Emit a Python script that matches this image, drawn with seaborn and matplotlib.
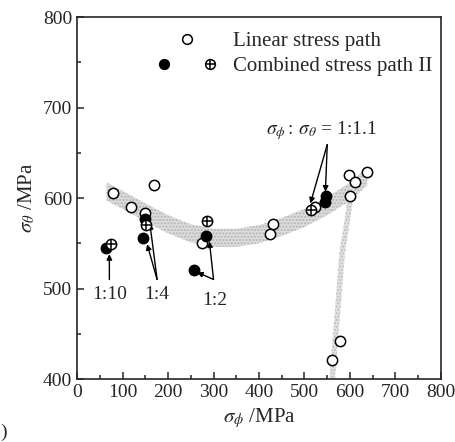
import matplotlib
matplotlib.use('Agg')
import matplotlib.pyplot as plt
import seaborn as sns
import numpy as np
import pandas as pd
from matplotlib.lines import Line2D
from matplotlib.legend_handler import HandlerTuple
from matplotlib.ticker import MultipleLocator

# ---- data ----
linear_x = [78, 118, 170, 149, 275, 430, 424, 524, 598, 612, 638, 600, 577, 560]
linear_y = [606, 590, 614, 583, 550, 571, 560, 590, 625, 618, 629, 602, 442, 421]
solid_x = [63, 145, 150, 258, 283, 545, 547]
solid_y = [545, 556, 577, 520, 558, 596, 602]
oplus_x = [75, 152, 285, 515]
oplus_y = [549, 570, 575, 587]

band_x = [65, 100, 150, 200, 250, 300, 350, 400, 450, 500, 550, 600, 638]
band_y = [607, 598, 584, 571, 561, 556, 556, 560, 568, 578, 591, 607, 624]
branch_y = [612, 575, 540, 470, 400]
branch_x = [604, 594, 583, 572, 561]

x_ticks = [0, 100, 200, 300, 400, 500, 600, 700, 800]
y_ticks = [400, 500, 600, 700, 800]

sns.set_style('ticks')
plt.rcParams['font.family'] = ['Liberation Serif', 'DejaVu Serif']
plt.rcParams['mathtext.fontset'] = 'stix'
plt.rcParams['axes.linewidth'] = 1.2

fig = plt.figure(figsize=(4.56, 4.42), dpi=100)
ax = fig.add_axes([0.169, 0.1425, 0.798, 0.819])

# shaded guide band
bx = np.array(band_x, dtype=float)
by = np.array(band_y, dtype=float)
ax.fill_between(bx, by - 10, by + 10, facecolor='#dcdcdc', edgecolor='#b4b4b4',
                hatch='.....', linewidth=0, zorder=1)
brx = np.array(branch_x, dtype=float)
bry = np.array(branch_y, dtype=float)
ax.fill_betweenx(bry, brx - 6, brx + 6, facecolor='#e2e2e2', edgecolor='#bcbcbc',
                 hatch='.....', linewidth=0, zorder=1)

ms = 55
lin = pd.DataFrame({'x': linear_x, 'y': linear_y})
sol = pd.DataFrame({'x': solid_x, 'y': solid_y})
opl = pd.DataFrame({'x': oplus_x, 'y': oplus_y})
sns.scatterplot(data=lin, x='x', y='y', ax=ax, marker='o', s=ms, facecolor='white',
                edgecolor='black', linewidth=1.1, zorder=3, legend=False)
sns.scatterplot(data=sol, x='x', y='y', ax=ax, marker='o', s=ms, color='black',
                edgecolor='black', linewidth=1.1, zorder=4, legend=False)
sns.scatterplot(data=opl, x='x', y='y', ax=ax, marker='o', s=ms, facecolor='white',
                edgecolor='black', linewidth=1.1, zorder=5, legend=False)
sns.scatterplot(data=opl, x='x', y='y', ax=ax, marker='+', s=ms, color='black',
                linewidth=1.1, zorder=6, legend=False)

ax.set_xlim(0, 800)
ax.set_ylim(400, 800)
ax.set_xticks(x_ticks)
ax.set_yticks(y_ticks)
ax.xaxis.set_minor_locator(MultipleLocator(50))
ax.yaxis.set_minor_locator(MultipleLocator(50))
ax.tick_params(which='both', direction='in', top=False, right=False, labelsize=14, width=1.1)
ax.tick_params(which='major', length=5)
ax.tick_params(which='minor', length=3)
ax.set_xlabel(r'$\sigma_\phi$ /MPa', fontsize=15, labelpad=4)
ax.set_ylabel(r'$\sigma_\theta$ /MPa', fontsize=15, labelpad=4)

# annotations
aprops = dict(arrowstyle='-|>', lw=1.0, color='black', mutation_scale=8, shrinkA=0, shrinkB=0)
ax.text(72, 493, '1:10', ha='center', va='center', fontsize=14)
ax.annotate('', xy=(71, 538), xytext=(71, 510), arrowprops=aprops)
ax.text(175, 493, '1:4', ha='center', va='center', fontsize=14)
ax.annotate('', xy=(154, 549), xytext=(176, 510), arrowprops=aprops)
ax.annotate('', xy=(160, 572), xytext=(176, 510), arrowprops=aprops)
ax.text(303, 487, '1:2', ha='center', va='center', fontsize=14)
ax.annotate('', xy=(264, 518), xytext=(300, 510), arrowprops=aprops)
ax.annotate('', xy=(291, 552), xytext=(300, 510), arrowprops=aprops)
ax.text(538, 674, r'$\sigma_\phi:\,\sigma_\theta$ = 1:1.1', ha='center', va='center', fontsize=14)
ax.annotate('', xy=(513, 594), xytext=(550, 659), arrowprops=aprops)
ax.annotate('', xy=(546, 607), xytext=(550, 659), arrowprops=aprops)

# legend
h_open = Line2D([], [], ls='none', marker='o', ms=7, mfc='white', mec='black', mew=1.1)
h_solid = Line2D([], [], ls='none', marker='o', ms=7, mfc='black', mec='black', mew=1.1)
h_ocirc = Line2D([], [], ls='none', marker='o', ms=7, mfc='white', mec='black', mew=1.1)
h_plus = Line2D([], [], ls='none', marker='+', ms=7, mec='black', mew=1.1)
outer = (h_solid, (h_ocirc, h_plus))
ax.legend([h_open, outer], ['Linear stress path', 'Combined stress path II'],
          handler_map={outer: HandlerTuple(ndivide=None, pad=1.5)},
          loc='upper left', bbox_to_anchor=(0.18, 1.0), frameon=False, fontsize=15,
          handlelength=2.9, handletextpad=0.75, labelspacing=0.25, borderaxespad=0.3)

fig.text(0.0, 0.012, ')', fontsize=14)

fig.savefig('out.png', dpi=100)
